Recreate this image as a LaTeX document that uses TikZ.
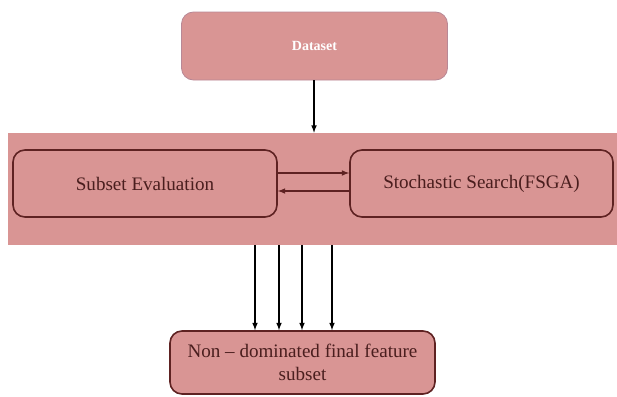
\documentclass[tikz,border=0pt]{standalone}
\usepackage{fontspec}
\setmainfont{Liberation Serif}
\definecolor{bandpink}{HTML}{D99594}
\definecolor{boxline}{HTML}{5E2222}
\definecolor{labeltext}{HTML}{4A1E1E}
\definecolor{softedge}{HTML}{B88896}

\begin{document}
\begin{tikzpicture}[x=0.75pt,y=-0.75pt,>=latex,
            every node/.style={inner sep=0pt,font=\fontsize{14.3}{17}\selectfont},
            inbox/.style={draw=boxline,line width=1.2pt,rounded corners=9pt,fill=bandpink,text=labeltext,align=center}]
                \useasboundingbox (0,0) rectangle (617,396);
                \node[draw=softedge,line width=0.6pt,fill=bandpink,rounded corners=9pt,
                      minimum width=199.5pt,minimum height=51pt,text=white,
                      font=\fontsize{10.5}{12}\selectfont\bfseries](data) at (314.5,46) {Dataset};
                \node[fill=bandpink,minimum width=456.75pt,minimum height=84pt](band) at (312.5,189) {};
                \node[inbox,minimum width=198pt,minimum height=50.25pt](sub) at (145,183.5) {Subset Evaluation};
                \node[inbox,minimum width=197.25pt,minimum height=50.25pt](sto) at (481.5,183.5) {Stochastic Search(FSGA)};
                \node[inbox,minimum width=198.75pt,minimum height=47.25pt](final) at (302.5,362.5)
                    {Non -- dominated final feature\\subset};

            \begin{scope}[->, line width=0.9pt]
                \draw (data.south -| 314,0) -- (band.north -| 314,0);
                \draw[boxline] (sub.east |- 0,173) -- (sto.west |- 0,173);
                \draw[boxline] (sto.west |- 0,191) -- (sub.east |- 0,191);
                \foreach \xpos in {255,279,302,332}
                    \draw (band.south -| \xpos,0) -- (final.north -| \xpos,0);
            \end{scope}
        \end{tikzpicture}
\end{document}
